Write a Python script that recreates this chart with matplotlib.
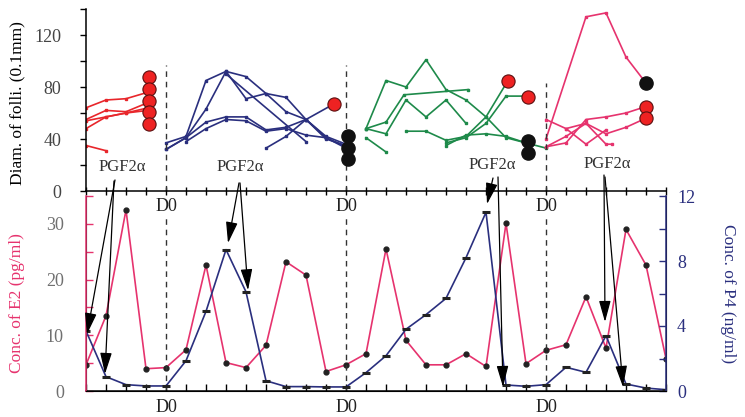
import numpy as np
import matplotlib
matplotlib.use("Agg")
import matplotlib.pyplot as plt
from matplotlib.ticker import MultipleLocator

# hormone data, one value per day
# ----------
days = np.arange(30)
e2 = [4.7, 13.5, 32.5, 4.0, 4.2, 7.4, 22.6, 5.1, 4.2, 8.2,
      23.2, 20.8, 3.5, 4.7, 6.7, 25.5, 9.1, 4.7, 4.7, 6.7,
      4.4, 30.1, 4.9, 7.3, 8.3, 16.9, 7.7, 29.0, 22.6, 5.8]
p4 = [3.7, 0.88, 0.39, 0.31, 0.31, 1.86, 4.9, 8.7, 6.1, 0.63,
      0.27, 0.27, 0.25, 0.25, 1.13, 2.17, 3.8, 4.7, 5.7, 8.2,
      11.0, 0.37, 0.29, 0.39, 1.46, 1.15, 3.4, 0.43, 0.18, 0.08]

d0_days = [4, 13, 23]

# follicle diameters (0.1 mm) per cycle
# ----------
red_days = [[0, 1, 2, 3.1], [0, 1, 2, 3.1], [0, 1, 2, 3.1], [0, 1, 2, 3.1], [0, 1]]
red_diam = [[64, 70, 71, 76], [55, 62, 61, 68], [54, 57, 60, 64],
            [48, 57, 60, 62], [35, 31]]

blue_days = [[4, 5, 6, 7, 8, 9, 10, 11, 12, 13],
             [4, 5, 6, 7, 8, 9, 10, 11, 12, 13],
             [4, 5, 6, 7, 8, 9, 10, 11, 12, 13],
             [5, 6, 7, 8, 9, 10, 11, 12, 13],
             [9, 10, 11, 12.4],
             [7, 11]]
blue_diam = [[37, 42, 85, 92, 88, 75, 72, 55, 41, 33],
             [32, 41, 63, 92, 71, 75, 61, 55, 40, 35],
             [32, 41, 53, 57, 57, 47, 49, 55, 42, 36],
             [38, 48, 55, 54, 46, 48, 43, 41, 34],
             [33, 42, 55, 67],
             [90, 38]]

green_days = [[14, 15, 16, 17, 18, 19, 20, 21, 22, 23],
              [14, 15, 15.9, 19.1],
              [14, 15, 16, 17, 18, 19],
              [14, 15],
              [16, 17, 18, 19, 20, 21.1],
              [18, 19, 20, 21, 22],
              [18, 19, 20, 21, 22.1]]
green_diam = [[48, 85, 80, 101, 78, 70, 57, 41, 37, 33],
              [48, 53, 74, 78],
              [48, 44, 70, 57, 70, 52],
              [41, 30],
              [46, 46, 39, 42, 57, 85],
              [35, 43, 44, 42, 37],
              [37, 41, 52, 73, 73]]

pink_days = [[23, 25, 26, 27, 28],
             [23, 24, 25, 26, 27, 28],
             [23, 24, 25, 26, 27, 28],
             [23, 24, 25, 26],
             [24, 25, 26, 26.3]]
pink_diam = [[40, 134, 137, 103, 83],
             [34, 37, 55, 57, 60, 65],
             [34, 42, 52, 44, 49, 56],
             [55, 48, 36, 47],
             [48, 52, 36, 36]]

# ovulated (red) and regressed (black) follicles at the end of each wave
red_end_days = [3.15, 3.15, 3.15, 3.15, 3.15, 12.4, 21.1, 22.1, 28, 28]
red_end_diam = [88, 78.5, 69.5, 61, 51.5, 67, 85, 72.6, 65, 56]
black_end_days = [13.1, 13.1, 13.1, 22.1, 22.1, 28]
black_end_diam = [42.5, 33.3, 24.4, 38.7, 29.0, 83.3]

# PGF2a injections: text position (top panel) and arrows to P4 (bottom)
pgf_text = [(1.8, 18.5), (7.7, 18.5), (20.3, 20), (26.05, 21)]
pgf_arrows = [((1.45, 8.5), (0.05, 3.5)), ((1.4, 7.7), (0.95, 1.05)),
              ((7.65, 6.2), (7.1, 9.1)), ((7.7, 6.2), (8.1, 6.2)),
              ((20.35, 10), (20.05, 11.5)), ((20.6, 10.8), (20.85, 0.25)),
              ((25.9, 12.3), (25.95, 4.25)), ((25.95, 10.8), (26.85, 0.25))]

# plot settings
# ----------
plt.rcParams["font.family"] = "Liberation Serif"
plt.rcParams["font.size"] = 12

c_red = "#e8262b"
c_pink = "#e6336e"
c_navy = "#2a2f7e"
c_green = "#1e8a4a"

fig = plt.figure(figsize=(7.45, 4.17), dpi=100)
ax_top = fig.add_axes([86/745, 1 - 191/417, 580/745, 182/417])
ax_e2 = fig.add_axes([86/745, 1 - 391/417, 580/745, 195/417])
ax_p4 = ax_e2.twinx()

# top panel: follicle diameters
# ----------
for grp_days, grp_diam, col in [(red_days, red_diam, c_red), (blue_days, blue_diam, c_navy),
                                (green_days, green_diam, c_green), (pink_days, pink_diam, c_pink)]:
    for xd, yd in zip(grp_days, grp_diam):
        ax_top.plot(xd, yd, color=col, lw=1.2, marker="s", ms=2)

ax_top.plot(red_end_days, red_end_diam, ls="none", marker="o", ms=9.5,
            mfc="#ee2222", mec="#5a1010", mew=0.8, zorder=5)
ax_top.plot(black_end_days, black_end_diam, ls="none", marker="o", ms=9.5,
            mfc="#111111", mec="#111111", zorder=5)

for d in d0_days:
    top = 83 if d == 23 else 97
    ax_top.vlines(d, 0, top, colors="#333333", linestyles=(0, (4, 3.5)), lw=1)

for tx, ty in pgf_text:
    ax_top.text(tx, ty, "PGF2α", ha="center", va="center", fontsize=12, color="#333333")

ax_top.set_xlim(0, 29)
ax_top.set_ylim(0, 140)
ax_top.yaxis.set_major_locator(MultipleLocator(40))
ax_top.yaxis.set_minor_locator(MultipleLocator(20))
ax_top.set_xticks(days, labels=[])
ax_top.tick_params(axis="x", direction="inout", length=6, width=1)
ax_top.tick_params(axis="y", which="both", direction="out", length=4, width=1,
                   pad=14, labelcolor="#444444", labelsize=13)
ax_top.spines[["top", "right"]].set_visible(False)
ax_top.spines["left"].set_linewidth(1.1)
ax_top.spines["bottom"].set_linewidth(1.1)
ax_top.set_ylabel("Diam. of folli. (0.1mm)", fontsize=12.5, va="center")
ax_top.yaxis.set_label_coords(-0.119, 0.484)
ax_top.patch.set_visible(False)

# bottom panel: E2 and P4
# ----------
ax_e2.plot(days, e2, color=c_pink, lw=1.2, marker="o", ms=3.5,
           mfc="#222222", mec="#222222")
ax_p4.plot(days, p4, color=c_navy, lw=1.2, marker="_", ms=6, mew=2.2,
           mec="#222222")

for d in d0_days:
    ax_e2.axvline(d, ymin=0, ymax=0.9, color="#333333", ls=(0, (4, 3.5)), lw=1)
    ax_e2.text(d, 0.945, "D0", transform=ax_e2.get_xaxis_transform(),
               ha="center", va="center", fontsize=13, color="#222222")

ax_e2.set_xlim(0, 29)
ax_e2.set_ylim(0, 35)
ax_p4.set_ylim(0, 12)
ax_e2.set_xticks(days, minor=True)
ax_e2.set_xticks(d0_days, labels=["D0"] * len(d0_days))
ax_e2.tick_params(axis="x", which="both", direction="in", length=5, width=1,
                  labelsize=13, labelcolor="#222222", pad=6)
ax_e2.yaxis.set_major_locator(MultipleLocator(10))
ax_e2.yaxis.set_minor_locator(MultipleLocator(5))
ax_e2.tick_params(axis="y", which="both", direction="in", length=5, width=1,
                  color=c_pink, pad=16, labelcolor="#707070", labelsize=13)
ax_p4.yaxis.set_major_locator(MultipleLocator(4))
ax_p4.yaxis.set_minor_locator(MultipleLocator(2))
ax_p4.tick_params(axis="y", which="both", direction="in", length=5, width=1,
                  color=c_navy, pad=8, labelcolor=c_navy, labelsize=13)

ax_e2.spines["top"].set_visible(False)
ax_p4.spines["top"].set_visible(False)
ax_p4.spines["left"].set_color(c_pink)
ax_p4.spines["left"].set_linewidth(1.1)
ax_p4.spines["right"].set_color(c_navy)
ax_p4.spines["right"].set_linewidth(1.1)
ax_e2.spines["bottom"].set_linewidth(1.1)

ax_e2.set_ylabel("Conc. of E2 (pg/ml)", color=c_pink, fontsize=12.5, va="center")
ax_e2.yaxis.set_label_coords(-0.119, 0.45)
ax_p4.set_ylabel("Conc. of P4 (ng/ml)", color=c_navy, fontsize=12.5,
                 rotation=270, va="center", ha="center")
ax_p4.yaxis.set_label_coords(1.107, 0.5)

# arrows from PGF2a injections down to P4
# ----------
for start, end in pgf_arrows:
    ax_p4.annotate("", xy=end, xycoords="data",
                   xytext=start, textcoords=ax_top.transData,
                   arrowprops=dict(arrowstyle="-|>,head_length=1.3,head_width=0.36",
                                   mutation_scale=10, lw=0.9, color="black",
                                   shrinkA=0, shrinkB=0))

fig.savefig("out.png", dpi=100)
